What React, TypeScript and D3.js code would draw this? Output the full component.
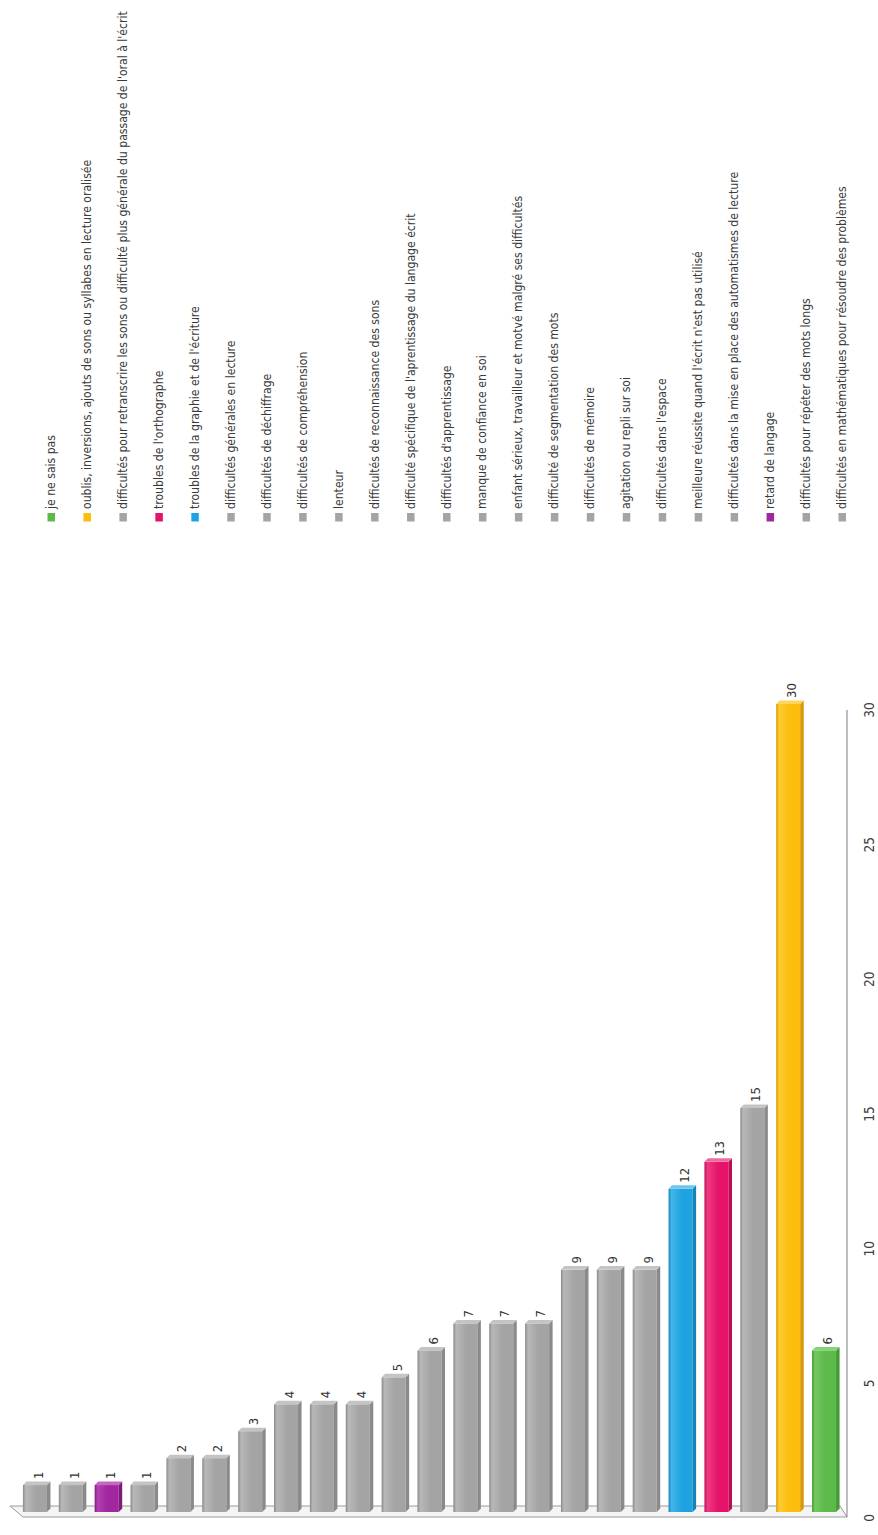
import React from 'react';
import * as d3 from 'd3';

// Legend order (top of legend = first); bars are drawn in reverse order left->right
const categories: string[] = [
  "je ne sais pas",
  "oublis, inversions, ajouts de sons ou syllabes en lecture oralisée",
  "difficultés pour retranscrire les sons ou difficulté plus générale du passage de l'oral à l'écrit",
  "troubles de l'orthographe",
  "troubles de la graphie et de l'écriture",
  "difficultés générales en lecture",
  "difficultés de déchiffrage",
  "difficultés de compréhension",
  "lenteur",
  "difficultés de reconnaissance des sons",
  "difficulté spécifique de l'aprentissage du langage écrit",
  "difficultés d'apprentissage",
  "manque de confiance en soi",
  "enfant sérieux, travailleur et motvé malgré ses difficultés",
  "difficulté de segmentation des mots",
  "difficultés de mémoire",
  "agitation ou repli sur soi",
  "difficultés dans l'espace",
  "meilleure réussite quand l'écrit n'est pas utilisé",
  "difficultés dans la mise en place des automatismes de lecture",
  "retard de langage",
  "difficultés pour répéter des mots longs",
  "difficultés en mathématiques pour résoudre des problèmes",
];

const values: number[] = [6, 30, 15, 13, 12, 9, 9, 9, 7, 7, 7, 6, 5, 4, 4, 4, 3, 2, 2, 1, 1, 1, 1];

const colorKeys: string[] = [
  'green', 'yellow', 'gray', 'pink', 'blue', 'gray', 'gray', 'gray', 'gray', 'gray', 'gray', 'gray',
  'gray', 'gray', 'gray', 'gray', 'gray', 'gray', 'gray', 'gray', 'purple', 'gray', 'gray',
];

const valueTicks: number[] = [0, 5, 10, 15, 20, 25, 30];

const palette: Record<string, { base: string; light: string; dark: string; top: string }> = {
  gray: { base: '#a4a4a4', light: '#b8b8b8', dark: '#8a8a8a', top: '#c4c4c4' },
  green: { base: '#5cb94a', light: '#74c862', dark: '#439a34', top: '#86d276' },
  yellow: { base: '#fbbd0e', light: '#ffcc33', dark: '#d89a00', top: '#ffd55a' },
  pink: { base: '#e5146a', light: '#ef3b82', dark: '#bb0d52', top: '#f06a9c' },
  blue: { base: '#1ea3e0', light: '#44b5ea', dark: '#1483b8', top: '#6cc6f0' },
  purple: { base: '#a0279e', light: '#b43fb2', dark: '#7c1b7a', top: '#c466c2' },
};

const FONT = "'Liberation Sans Narrow', 'DejaVu Sans Condensed', 'Liberation Sans', sans-serif";

export default function App() {
  const W = 878;
  const H = 1535;
  const n = categories.length;
  // bar order left->right is reverse of legend order
  const barOrder = d3.range(n).map((i) => n - 1 - i);

  const x = d3
    .scaleBand<number>()
    .domain(barOrder)
    .range([17, 842])
    .paddingInner(0.33)
    .paddingOuter(0.165);

  const y = d3.scaleLinear().domain([0, 30]).range([1512, 704]);
  const tickOffset = 6;

  const lx = d3.scaleLinear().domain([0, n - 1]).range([55, 846]);

  const bw = x.bandwidth();
  const d = 3.5; // 3D depth

  return (
    <svg
      width={W}
      height={H}
      viewBox={`0 0 ${W} ${H}`}
      style={{ position: 'absolute', left: 0, top: 0, background: '#fff' }}
      fontFamily={FONT}
    >
      <defs>
        {Object.entries(palette).map(([k, c]) => (
          <linearGradient key={k} id={`grad-${k}`} x1="0" x2="1" y1="0" y2="0">
            <stop offset="0%" stopColor={c.dark} />
            <stop offset="12%" stopColor={c.light} />
            <stop offset="55%" stopColor={c.base} />
            <stop offset="100%" stopColor={c.base} />
          </linearGradient>
        ))}
      </defs>
      <rect x={0} y={0} width={W} height={H} fill="#fff" />

      {/* Floor (3D base) */}
      <g fill="none" stroke="#9a9a9a" strokeWidth={1}>
        <path d={`M10,${y(0) - 6} L840,${y(0) - 6} L847,${y(0) + 5} L23,${y(0) + 5} Z`} fill="#f4f4f4" />
      </g>

      {/* Value axis line */}
      <line x1={847} x2={847} y1={y(30) + tickOffset} y2={y(0) + 5} stroke="#7f7f7f" strokeWidth={1} />

      {/* Axis tick labels */}
      {valueTicks.map((t) => (
        <text
          key={t}
          transform={`translate(874,${y(t) + tickOffset}) rotate(-90)`}
          textAnchor="middle"
          fontSize={13.5}
          fill="#404040"
        >
          {t}
        </text>
      ))}

      {/* Bars */}
      {barOrder.map((k) => {
        const x0 = x(k) as number;
        const top = y(values[k]);
        const bottom = y(0);
        const c = palette[colorKeys[k]];
        return (
          <g key={k}>
            <rect x={x0} y={top} width={bw} height={bottom - top} fill={`url(#grad-${colorKeys[k]})`} />
            <polygon
              points={`${x0 + bw},${top} ${x0 + bw + d},${top - d} ${x0 + bw + d},${bottom - d} ${x0 + bw},${bottom}`}
              fill={c.dark}
            />
            <polygon
              points={`${x0},${top} ${x0 + d},${top - d} ${x0 + bw + d},${top - d} ${x0 + bw},${top}`}
              fill={c.top}
            />
            <text
              transform={`translate(${x0 + bw / 2 + 8},${top - 6}) rotate(-90)`}
              textAnchor="start"
              fontSize={13}
              fill="#333"
            >
              {values[k]}
            </text>
          </g>
        );
      })}

      {/* Legend */}
      {categories.map((cat, k) => {
        const bx = lx(k);
        const c = palette[colorKeys[k]];
        return (
          <g key={cat}>
            <rect x={bx - 7.5} y={513} width={7.5} height={8.5} fill={c.base} />
            <text
              transform={`translate(${bx},${509}) rotate(-90)`}
              textAnchor="start"
              fontSize={12.1}
              fill="#3a3a3a"
            >
              {cat}
            </text>
          </g>
        );
      })}
    </svg>
  );
}
